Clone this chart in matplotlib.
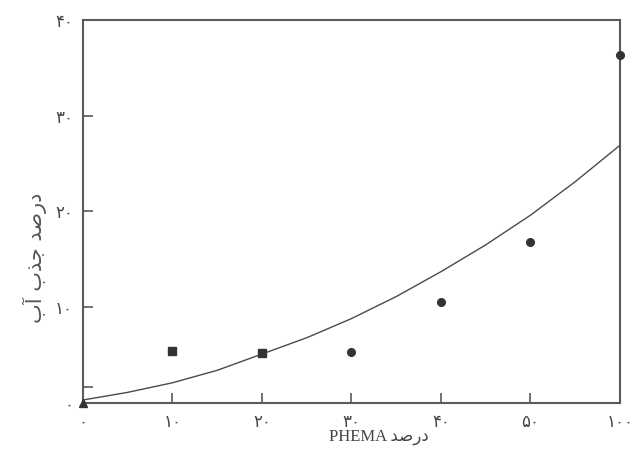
import numpy as np
import matplotlib
matplotlib.use("Agg")
import matplotlib.pyplot as plt

# x axis is categorical-ish: 100 sits right after 50
phema_pct = [0, 10, 20, 30, 40, 50, 100]
x_labels = ['۰', '۱۰', '۲۰', '۳۰', '۴۰', '۵۰', '۱۰۰']
y_ticks = [0, 10, 20, 30, 40]
y_labels = ['۰', '۱۰', '۲۰', '۳۰', '۴۰']

# measured water uptake (%)
water_meas = [0, 5.4, 5.2, 5.3, 10.5, 16.8, 36.3]
meas_marker = ['^', 's', 's', 'o', 'o', 'o', 'o']

# fitted curve
curve_pct = [0, 5, 10, 15, 20, 25, 30, 35, 40, 45, 50, 75, 100]
curve_vals = [0.3, 1.1, 2.1, 3.4, 5.1, 6.8, 8.8, 11.1, 13.7, 16.5, 19.6, 23.1, 26.9]

# Persian labels in visual order (presentation forms)
ylabel_fa = "\uFE8F\uFE81 \uFE8F\uFEAC\uFE9F \uFEAA\uFEBB\uFEAD\uFEA9"   # درصد جذب آب
xlabel_fa = "PHEMA \uFEAA\uFEBB\uFEAD\uFEA9"                            # درصد PHEMA

idx = np.arange(len(phema_pct))
gray = '#5a5a5a'

fig = plt.figure(figsize=(6.32, 4.61), dpi=100)
ax = fig.add_axes([0.131, 0.126, 0.850, 0.831])

cx = np.interp(curve_pct, phema_pct, idx)
ax.plot(cx, curve_vals, color='#4a4a4a', lw=1.0)

for i in range(len(phema_pct)):
    ax.plot(idx[i], water_meas[i], marker=meas_marker[i], color='#333333',
            ms=6 if meas_marker[i] != 'o' else 5.5, ls='none', clip_on=False, zorder=5)

ax.set_xlim(0, 6)
ax.set_ylim(0, 39.9)
ax.set_xticks(idx)
ax.set_xticklabels(x_labels)
ax.set_yticks(y_ticks)
ax.set_yticklabels(y_labels)
ax.set_yticks([1.7], minor=True)

ax.tick_params(axis='both', direction='in', length=7, width=1.2, color=gray,
               labelcolor='#444444', labelsize=12)
ax.tick_params(axis='y', which='minor', direction='in', length=7, width=1.2, color=gray)
ax.tick_params(axis='y', pad=7)
ax.tick_params(axis='x', pad=7)
for s in ax.spines.values():
    s.set_color(gray)
    s.set_linewidth(1.5)

fig.text(0.055, 0.44, ylabel_fa, rotation=90, ha='center', va='center',
         fontsize=15, color='#555555', family=['DejaVu Sans'])
fig.text(0.60, 0.052, xlabel_fa, ha='center', va='center',
         fontsize=12, color='#444444', family=['Liberation Serif', 'DejaVu Sans'])

fig.savefig('out.png', dpi=100)
